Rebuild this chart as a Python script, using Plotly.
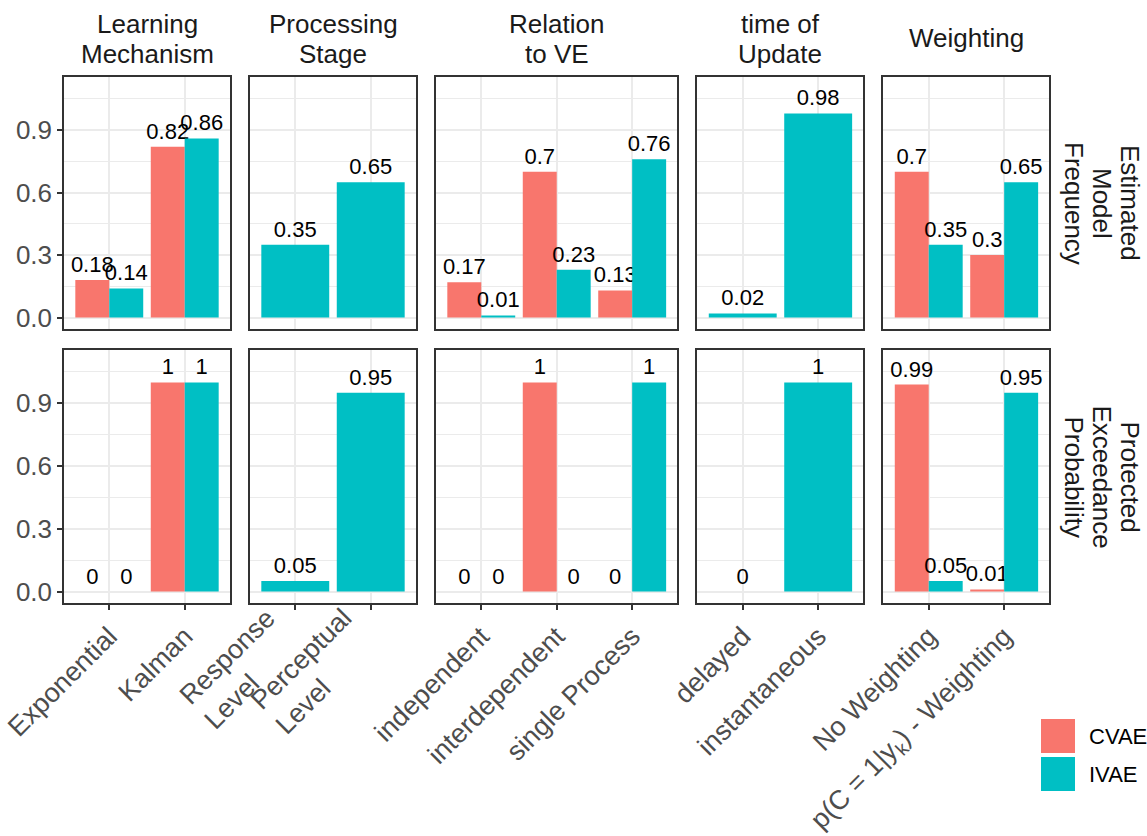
import plotly.graph_objects as go

W, H = 1147, 836

# ---- data -------------------------------------------------------------
facet_titles = [
    ["Learning", "Mechanism"],
    ["Processing", "Stage"],
    ["Relation", "to VE"],
    ["time of", "Update"],
    ["Weighting"],
]
row_titles = [
    ["Estimated", "Model", "Frequency"],
    ["Protected", "Exceedance", "Probability"],
]
categories = [
    ["Exponential", "Kalman"],
    ["Response<br>Level", "Perceptual<br>Level"],
    ["independent", "interdependent", "single Process"],
    ["delayed", "instantaneous"],
    ["No Weighting", "p(C = 1|y<sub>k</sub>) - Weighting"],
]
models = ["CVAE", "IVAE"]

# one entry per facet; None where a model has no family in that facet
cvae_freq = [[0.18, 0.82], None, [0.17, 0.70, 0.13], None, [0.70, 0.30]]
ivae_freq = [[0.14, 0.86], [0.35, 0.65], [0.01, 0.23, 0.76], [0.02, 0.98], [0.35, 0.65]]
cvae_pxp = [[0, 1], None, [0, 1, 0], None, [0.99, 0.01]]
ivae_pxp = [[0, 1], [0.05, 0.95], [0, 0, 1], [0, 1], [0.05, 0.95]]

y_ticks = [0.0, 0.3, 0.6, 0.9]
y_minor = [0.15, 0.45, 0.75, 1.05]

# ---- styling ----------------------------------------------------------
colors = {"CVAE": "#F8766D", "IVAE": "#00BFC4"}
FONT = "Arial, 'Liberation Sans', sans-serif"
GRID = "#EBEBEB"
BORDER = "#333333"
AXIS_TEXT = "#4D4D4D"
X_TICK_SIZE = 27
Y_TICK_SIZE = 26
BAR_LABEL_SIZE = 22

# panel geometry in pixels (width follows the number of categories)
panel_left = 64
panel_gap = 20
px_per_unit = 166 / 2.2
row_tops = [77, 350]
row_bottoms = [329, 603]
y_range = [-0.055, 1.155]


def xp(px):
    return px / W


def yp(px):
    return 1 - px / H


rows_data = [(cvae_freq, ivae_freq), (cvae_pxp, ivae_pxp)]

fig = go.Figure()
layout = {}
annotations = []
shapes = []

panel_x = []
x = panel_left
for cats in categories:
    w = (len(cats) + 0.2) * px_per_unit
    panel_x.append((x, x + w))
    x += w + panel_gap

for r, (cvae, ivae) in enumerate(rows_data):
    for c, cats in enumerate(categories):
        k = r * len(categories) + c + 1
        xref = "x" if k == 1 else f"x{k}"
        yref = "y" if k == 1 else f"y{k}"
        for model, series in zip(models, (cvae, ivae)):
            vals = series[c]
            if vals is None:
                continue
            fig.add_trace(go.Bar(
                x=cats, y=vals, name=model,
                xaxis=xref, yaxis=yref,
                marker=dict(color=colors[model], line=dict(width=0)),
                text=[f"{v:g}" for v in vals],
                textposition="outside", textangle=0,
                constraintext="none", cliponaxis=False,
                textfont=dict(family=FONT, size=BAR_LABEL_SIZE, color="black"),
                showlegend=False, hoverinfo="skip",
            ))
        x0, x1 = panel_x[c]
        bottom = r == len(rows_data) - 1
        multiline = any("<br>" in cat for cat in cats)
        layout["xaxis" if k == 1 else f"xaxis{k}"] = dict(
            domain=[xp(x0), xp(x1)], anchor=yref,
            type="category", categoryorder="array", categoryarray=cats,
            range=[-0.6, len(cats) - 0.4],
            showgrid=True, gridcolor=GRID, gridwidth=1.8,
            showline=True, mirror=True, linecolor=BORDER, linewidth=1.5,
            zeroline=False,
            ticks="outside" if bottom else "", ticklen=5,
            tickcolor=BORDER, tickwidth=1.5,
            showticklabels=bottom and not multiline, tickangle=-45,
            tickfont=dict(family=FONT, size=X_TICK_SIZE, color=AXIS_TEXT),
            automargin=False, fixedrange=True,
        )
        # two-line category names: left-aligned rotated labels
        if bottom and multiline:
            for cat in cats:
                annotations.append(dict(
                    x=cat, xref=xref, xshift=14,
                    y=yp(row_bottoms[r] - 3), yref="paper",
                    text=cat, showarrow=False, textangle=-45, align="left",
                    xanchor="right", yanchor="top",
                    font=dict(family=FONT, size=X_TICK_SIZE, color=AXIS_TEXT),
                ))
        layout["yaxis" if k == 1 else f"yaxis{k}"] = dict(
            domain=[yp(row_bottoms[r]), yp(row_tops[r])], anchor=xref,
            range=y_range,
            tickvals=y_ticks, ticktext=[f"{v:.1f}" for v in y_ticks],
            minor=dict(tickvals=y_minor, showgrid=True, gridcolor=GRID,
                       gridwidth=1.1, ticks=""),
            showgrid=True, gridcolor=GRID, gridwidth=1.8,
            showline=True, mirror=True, linecolor=BORDER, linewidth=1.5,
            zeroline=False,
            ticks="outside" if c == 0 else "", ticklen=5,
            tickcolor=BORDER, tickwidth=1.5,
            showticklabels=c == 0,
            tickfont=dict(family=FONT, size=Y_TICK_SIZE, color=AXIS_TEXT),
            automargin=False, fixedrange=True,
        )

# facet strip labels above the panels
strip_line_y = {1: [38], 2: [24, 54]}
for c, lines in enumerate(facet_titles):
    x0, x1 = panel_x[c]
    for line, ypx in zip(lines, strip_line_y[len(lines)]):
        annotations.append(dict(
            x=xp((x0 + x1) / 2), y=yp(ypx), xref="paper", yref="paper",
            text=line, showarrow=False, xanchor="center", yanchor="middle",
            font=dict(family=FONT, size=26, color="#1A1A1A"),
        ))

# row strip labels on the right
row_line_x = [1130, 1102, 1074]
for r, lines in enumerate(row_titles):
    ymid = (row_tops[r] + row_bottoms[r]) / 2
    for line, xpx in zip(lines, row_line_x):
        annotations.append(dict(
            x=xp(xpx), y=yp(ymid), xref="paper", yref="paper",
            text=line, showarrow=False, textangle=90,
            xanchor="center", yanchor="middle",
            font=dict(family=FONT, size=26, color="#1A1A1A"),
        ))

# legend keys
key_top = 719
for i, model in enumerate(models):
    top = key_top + i * 38
    shapes.append(dict(
        type="rect", xref="paper", yref="paper",
        x0=xp(1041), x1=xp(1075), y0=yp(top + 34), y1=yp(top),
        fillcolor=colors[model], line=dict(width=0),
    ))
    annotations.append(dict(
        x=xp(1087), y=yp(top + 17), xref="paper", yref="paper",
        text=model, showarrow=False, xanchor="left", yanchor="middle",
        font=dict(family=FONT, size=22, color="black"),
    ))

fig.update_layout(
    width=W, height=H,
    margin=dict(l=0, r=0, t=0, b=0),
    paper_bgcolor="white", plot_bgcolor="white",
    barmode="group", bargap=0.1, bargroupgap=0,
    font=dict(family=FONT),
    showlegend=False,
    annotations=annotations, shapes=shapes,
    **layout,
)

fig.write_html("out.html")
